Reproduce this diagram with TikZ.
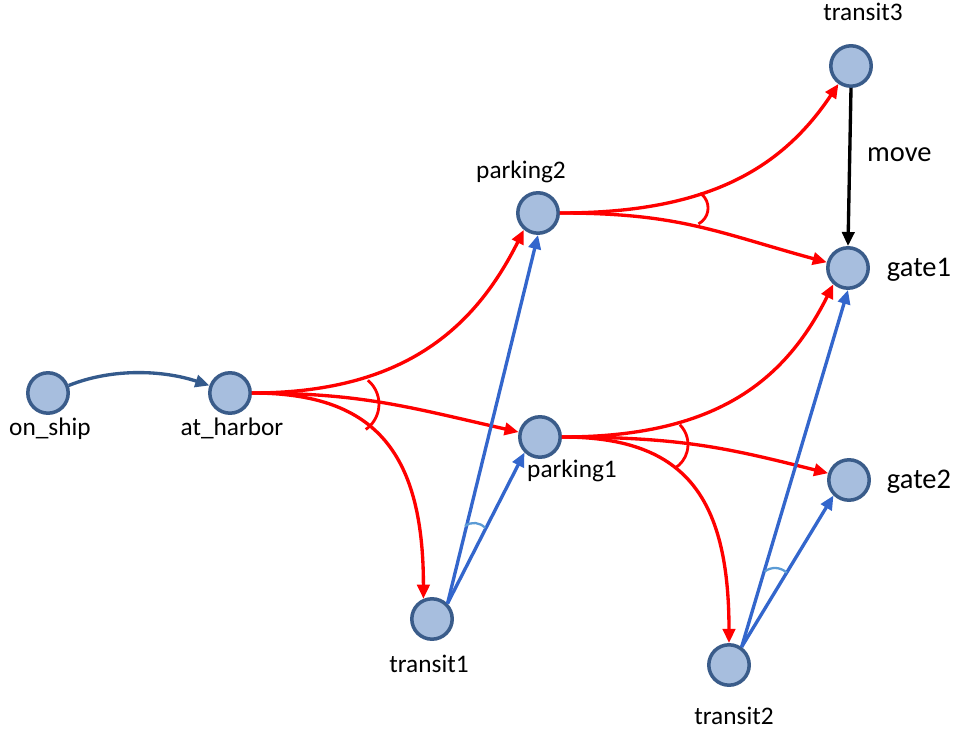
\documentclass[tikz,border=0pt]{standalone}
\usepackage{fontspec}
\setmainfont{Carlito}
\usetikzlibrary{arrows.meta}
\definecolor{nodefill}{RGB}{167,190,222}
\definecolor{nodeline}{RGB}{58,92,138}
\definecolor{shipblue}{RGB}{52,90,140}
\definecolor{linkblue}{RGB}{51,102,204}
\definecolor{arcblue}{RGB}{91,155,213}
\definecolor{linkred}{RGB}{255,0,0}
\tikzset{
  >={Triangle[length=8pt,width=7pt]},
  state/.style={circle,draw=nodeline,fill=nodefill,line width=2pt,
    minimum size=23pt,inner sep=0pt},
  lbl/.style={font=\fontsize{14.4}{16}\selectfont,inner sep=0pt,anchor=base},
  biglbl/.style={font=\fontsize{16.2}{18}\selectfont,inner sep=0pt,anchor=base},
  flow/.style={->,line width=1.9pt,draw=#1},
  flow/.default=linkred,
  andarc/.style={draw=#1,line width=1.6pt},
  andarc/.default=linkred,
}

\begin{document}
\begin{tikzpicture}[x=0.02cm,y=-0.02cm]
  \useasboundingbox (0,0) rectangle (956,732);
  % places
  \node[state] (onship)   at (48,393)  {};
  \node[state] (atharbor) at (230,393) {};
  \node[state] (parking2) at (538,213) {};
  \node[state] (parking1) at (540,437) {};
  \node[state] (transit1) at (432,619) {};
  \node[state] (transit2) at (729,665) {};
  \node[state] (transit3) at (851,66)  {};
  \node[state] (gate1)    at (848,268) {};
  \node[state] (gate2)    at (849,480) {};
  % names
  \node[lbl] (lonship)   at (50,436)  {on\_ship};
  \node[lbl] (latharbor) at (232,436) {at\_harbor};
  \node[lbl] (lparking2) at (521,179) {parking2};
  \node[lbl] (lparking1) at (572,478) {parking1};
  \node[lbl] (ltransit1) at (429,672) {transit1};
  \node[lbl] (ltransit2) at (734,724) {transit2};
  \node[lbl] (ltransit3) at (863,21)  {transit3};
  \node[biglbl] (lgate1) at (919,277) {gate1};
  \node[biglbl] (lgate2) at (919,489) {gate2};
  % leaving the ship
  \draw[flow=shipblue] (onship.20) .. controls +(45,-18) and +(-45,-15) .. (atharbor.160);
  % red fans
  \draw[flow] (atharbor.east) .. controls +(150,0) and +(-50,100) .. (parking2.230);
  \draw[flow] (atharbor.east) .. controls +(110,0) and +(-110,-25) .. (parking1.167);
  \draw[flow] (atharbor.east) .. controls +(120,0) and +(0,-150) .. (transit1.113);
  \draw[flow] (parking2.east) .. controls +(140,0) and +(-60,90) .. (transit3.235);
  \draw[flow] (parking2.east) .. controls +(120,0) and +(-110,-30) .. (gate1.165);
  \draw[flow] (parking1.east) .. controls +(150,0) and +(-50,100) .. (gate1.228);
  \draw[flow] (parking1.east) .. controls +(120,0) and +(-100,-25) .. (gate2.162);
  \draw[flow] (parking1.east) .. controls +(120,0) and +(0,-150) .. (transit2.north);
  \draw[andarc] (367.9,380.3) arc[start angle=-50,end angle=55,radius=31];
  \draw[andarc] (700.1,193.1) arc[start angle=-56,end angle=62,radius=18];
  \draw[andarc] (679.8,424.7) arc[start angle=-45,end angle=58,radius=28];
  % blue fans
  \draw[flow=linkblue] (transit1.north east) -- (parking2.south);
  \draw[flow=linkblue] (transit1.north east) -- (parking1.south west);
  \draw[flow=linkblue] (transit2.55) -- (gate1.south);
  \draw[flow=linkblue] (transit2.55) -- (gate2.south west);
  \draw[andarc=arcblue,line width=1.3pt] (465,526) arc[start angle=-127,end angle=-42,radius=15];
  \draw[andarc=arcblue,line width=1.3pt] (764.5,571.6) arc[start angle=-128,end angle=-46,radius=17];
  % move
  \draw[flow=black] (transit3.south) -- node[biglbl,anchor=west,pos=0.42,xshift=9pt] (lmove) {move} (gate1.north);
\end{tikzpicture}
\end{document}
